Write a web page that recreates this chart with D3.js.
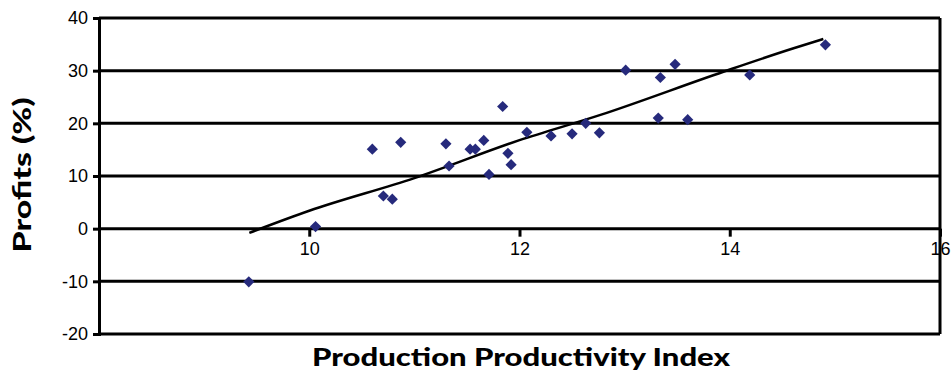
<!DOCTYPE html>
<html><head><meta charset="utf-8">
<script src="https://cdn.jsdelivr.net/npm/d3@7"></script>
<style>html,body{margin:0;padding:0;background:#fff;overflow:hidden}</style>
</head><body>
<svg id="c" width="951" height="370"></svg>
<script>
const pointX = [9.425, 10.06, 10.60, 10.87, 10.705, 10.79, 11.30, 11.33, 11.53, 11.58, 11.66, 11.71, 11.84, 11.89, 11.92, 12.07, 12.30, 12.50, 12.63, 12.76, 13.01, 13.34, 13.32, 13.48, 13.60, 14.19, 14.91];
const pointY = [-10.1, 0.4, 15.1, 16.4, 6.2, 5.6, 16.1, 11.9, 15.1, 15.1, 16.75, 10.3, 23.2, 14.3, 12.15, 18.3, 17.6, 18.0, 20.0, 18.2, 30.1, 28.7, 21.0, 31.2, 20.7, 29.2, 34.9];
const trendX = [9.43, 10.0, 11.0, 12.0, 12.77, 13.94, 14.6, 14.89];
const trendY = [-0.8, 3.4, 9.6, 16.8, 21.6, 29.8, 34.2, 36.0];
const xTicks = [10, 12, 14, 16];
const yTicks = [-20, -10, 0, 10, 20, 30, 40];
const xTitle = "Production Productivity Index";
const yTitle = "Profits (%)";

const svg = d3.select("#c");
const x = d3.scaleLinear().domain([8, 16]).range([99, 940]);
const y = d3.scaleLinear().domain([-20, 40]).range([334, 18]);
const fmt = d => String(d);

// horizontal gridlines
svg.append("g").selectAll("line").data(yTicks).join("line")
  .attr("x1", x(8)).attr("x2", x(16))
  .attr("y1", d => y(d)).attr("y2", d => y(d))
  .attr("stroke", "#000").attr("stroke-width", 3);

// y axis (left)
const yAxis = d3.axisLeft(y).tickValues(yTicks).tickSize(6).tickPadding(5).tickFormat(fmt);
const gy = svg.append("g").attr("transform", `translate(${x(8)},0)`).call(yAxis);
gy.select(".domain").attr("stroke-width", 3).attr("stroke", "#000");
gy.selectAll(".tick line").attr("stroke-width", 3);
gy.selectAll("text").attr("font-family", "Liberation Sans, Arial, sans-serif").attr("font-size", 18).attr("fill", "#000");

// right border
svg.append("line").attr("x1", x(16)).attr("x2", x(16)).attr("y1", y(40)).attr("y2", y(-20))
  .attr("stroke", "#000").attr("stroke-width", 3);

// x axis along zero
const xAxis = d3.axisBottom(x).tickValues(xTicks).tickSize(8).tickPadding(6).tickFormat(fmt);
const gx = svg.append("g").attr("transform", `translate(0,${y(0)})`).call(xAxis);
gx.select(".domain").remove();
gx.selectAll(".tick line").attr("stroke-width", 3);
gx.selectAll("text").attr("font-family", "Liberation Sans, Arial, sans-serif").attr("font-size", 18).attr("fill", "#000");

// trend line
const line = d3.line().x((d, i) => x(trendX[i])).y((d, i) => y(trendY[i])).curve(d3.curveMonotoneX);
svg.append("path").datum(trendY).attr("d", line)
  .attr("fill", "none").attr("stroke", "#000").attr("stroke-width", 2.5).attr("stroke-linejoin", "round");

// points
const diamond = d3.symbol().type(d3.symbolDiamond2).size(80);
svg.append("g").selectAll("path").data(pointX).join("path")
  .attr("d", diamond)
  .attr("transform", (d, i) => `translate(${x(pointX[i])},${y(pointY[i])})`)
  .attr("fill", "#262a7c");

// titles
svg.append("text").attr("x", 521).attr("y", 366).attr("text-anchor", "middle")
  .attr("font-family", "Lato, Open Sans, sans-serif").attr("font-weight", 900).attr("font-size", 25)
  .attr("textLength", 418).attr("lengthAdjust", "spacingAndGlyphs")
  .text(xTitle);
svg.append("text").attr("transform", "translate(31,175) rotate(-90)").attr("text-anchor", "middle")
  .attr("font-family", "Lato, Open Sans, sans-serif").attr("font-weight", 900).attr("font-size", 25)
  .attr("textLength", 155).attr("lengthAdjust", "spacingAndGlyphs")
  .text(yTitle);
</script>
</body></html>
